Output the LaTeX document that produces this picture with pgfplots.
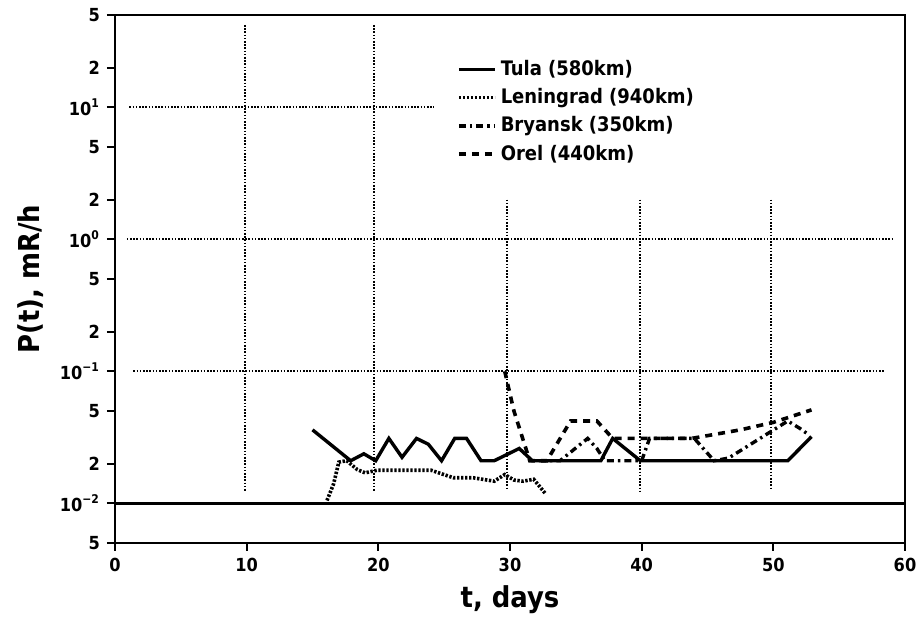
\documentclass[border=0pt]{standalone}
\usepackage{fontspec}
\setmainfont{DejaVu Sans Condensed}
\usepackage{pgfplots}
\pgfplotsset{compat=1.18}

\begin{document}
\begin{tikzpicture}
\begin{axis}[
  scale only axis,
  width=395pt, height=264pt,
  ymode=log,
  xmin=0, xmax=60, ymin=0.005, ymax=50,
  xtick={0,10,20,30,40,50,60},
  ytick={0.005,0.01,0.02,0.05,0.1,0.2,0.5,1,2,5,10,20,50},
  yticklabels={5,10\textsuperscript{−2},2,5,10\textsuperscript{−1},2,5,10\textsuperscript{0},2,5,10\textsuperscript{1},2,5},
  /pgf/number format/assume math mode=true,
  minor tick num=0,
  yminorticks=false,
  tick align=outside, tick pos=left,
  major tick length=4pt,
  every tick/.style={black, line width=1pt},
  axis line style={line width=1.4pt},
  tick label style={font=\bfseries\small},
  xlabel={t, days}, ylabel={P(t), mR/h},
  label style={font=\bfseries\Large},
  xlabel style={at={(axis description cs:0.5,-0.108)}, anchor=center},
  ylabel style={at={(axis description cs:-0.107,0.5)}, anchor=center},
  legend style={draw=none, fill=none, at={(axis description cs:0.425,0.93)}, anchor=north west,
    font=\bfseries\normalsize, row sep=1pt},
  legend cell align=left,
  legend image post style={sharp plot},
  legend image code/.code={\draw[#1] (0pt,0pt) -- (18pt,0pt);},
]
\pgfplotsset{grid line/.style={black, line width=1.1pt, dash pattern=on 0.8pt off 0.8pt, forget plot}}
% partial grid lines as in the original
\addplot[grid line] coordinates {(9.9,42) (9.9,0.0124)};
\addplot[grid line] coordinates {(19.7,42) (19.7,0.0124)};
\addplot[grid line] coordinates {(29.8,2) (29.8,0.0128)};
\addplot[grid line] coordinates {(39.9,2) (39.9,0.012)};
\addplot[grid line] coordinates {(49.8,2) (49.8,0.013)};
\addplot[grid line] coordinates {(1.1,10) (24.2,10)};
\addplot[grid line] coordinates {(0.9,1) (59,1)};
\addplot[grid line] coordinates {(1.4,0.1) (58.5,0.1)};
\addplot[black, line width=1.3pt, forget plot] coordinates {(0,0.01) (60,0.01)};

% Tula
\addplot[black, line width=1.7pt] coordinates {
(15,0.036) (17.9,0.021) (18.9,0.0237) (19.8,0.021) (20.8,0.031) (21.8,0.0223)
(22.9,0.031) (23.8,0.028) (24.8,0.021) (25.8,0.031) (26.7,0.031) (27.8,0.021)
(28.8,0.021) (30.7,0.026) (31.7,0.021) (36.9,0.021) (37.8,0.031) (39.9,0.021)
(51.1,0.021) (52.9,0.032)};
\addlegendentry{Tula (580km)}
% Leningrad
\addplot[black, line width=1.8pt, dash pattern=on 1.2pt off 0.8pt] coordinates {
(16.1,0.0105) (16.6,0.014) (17.0,0.0205) (17.6,0.021) (18.4,0.018) (19.0,0.017)
(19.9,0.0178) (24.0,0.0178) (25.7,0.0156) (27.2,0.0156) (28.8,0.0147) (29.6,0.0165)
(30.3,0.015) (31.0,0.0147) (31.8,0.0152) (32.7,0.0118)};
\addlegendentry{Leningrad (940km)}
% Bryansk
\addplot[black, line width=1.7pt, dash pattern=on 3.5pt off 2pt on 1.2pt off 2pt] coordinates {
(32.2,0.021) (33.8,0.021) (35.9,0.031) (36.6,0.026) (37.2,0.021) (40.0,0.021)
(40.6,0.031) (44.0,0.031) (45.5,0.021) (46.6,0.022) (51.1,0.042) (52.0,0.037) (52.7,0.033)};
\addlegendentry{Bryansk (350km)}
% Orel
\addplot[black, line width=1.8pt, dash pattern=on 3.5pt off 3pt] coordinates {
(29.6,0.1) (30.3,0.05) (31.5,0.021) (32.8,0.021) (34.6,0.042) (36.6,0.042)
(37.8,0.031) (43.8,0.031) (47.5,0.036) (50.0,0.041) (52.9,0.051)};
\addlegendentry{Orel (440km)}
\end{axis}
\pgfresetboundingbox
\path[use as bounding box] ([shift={(-57.5pt,-42pt)}]current axis.south west)
  rectangle ([shift={(9pt,7.5pt)}]current axis.north east);
\end{tikzpicture}
\end{document}
